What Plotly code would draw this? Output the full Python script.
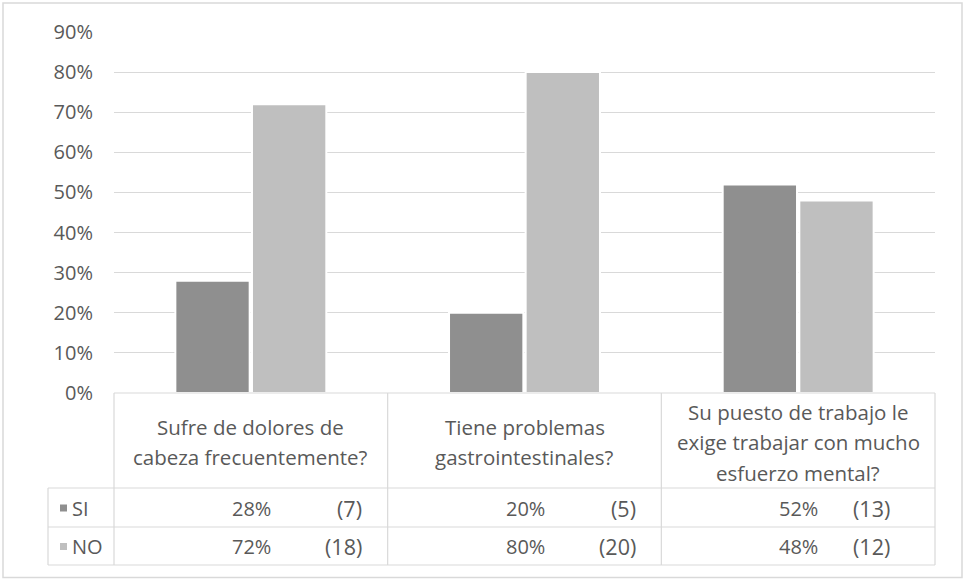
import plotly.graph_objects as go

# ---- data ---------------------------------------------------------------
questions = [
    ["Sufre de dolores de", "cabeza frecuentemente?"],
    ["Tiene problemas", "gastrointestinales?"],
    ["Su puesto de trabajo le", "exige trabajar con mucho", "esfuerzo mental?"],
]
series_names = ["SI", "NO"]
si_share = [0.28, 0.20, 0.52]
no_share = [0.72, 0.80, 0.48]
si_counts = [7, 5, 13]
no_counts = [18, 20, 12]
y_ticks = [0.0, 0.1, 0.2, 0.3, 0.4, 0.5, 0.6, 0.7, 0.8, 0.9]

# ---- styling ------------------------------------------------------------
W, H = 964, 580
ML, MR, MT, MB = 114, 29, 32, 187
PW, PH = W - ML - MR, H - MT - MB
FONT = "Open Sans"
TXT = "#595959"
LINE = "#d9d9d9"
colors = ["#8f8f8f", "#bfbfbf"]
FS = 20
FS_HEAD = 20.5

n = len(questions)
xs = list(range(n))


def px_x(p):
    return (p - ML) / PW


def px_y(p):
    return (H - MB - p) / PH


fig = go.Figure()
for name, vals, col in zip(series_names, [si_share, no_share], colors):
    fig.add_trace(go.Bar(
        x=xs, y=vals, name=name,
        marker=dict(color=col, line=dict(color="white", width=2)),
        hoverinfo="skip",
    ))

shapes = []
annotations = []

# outer chart frame
shapes.append(dict(type="rect", xref="paper", yref="paper",
                   x0=px_x(3), x1=px_x(962), y0=px_y(577.5), y1=px_y(3),
                   line=dict(color=LINE, width=1.5)))

# data table grid
tbl_left = px_x(48)
row_header_bot = px_y(488)
row_si_bot = px_y(527)
row_no_bot = px_y(565)
table_top = 0.0

shapes.append(dict(type="line", xref="paper", yref="paper",
                   x0=0, x1=1, y0=table_top, y1=table_top,
                   line=dict(color=LINE, width=1.2)))
for y in [row_header_bot, row_si_bot, row_no_bot]:
    shapes.append(dict(type="line", xref="paper", yref="paper",
                       x0=tbl_left, x1=1, y0=y, y1=y, line=dict(color=LINE, width=1.2)))
for k in range(n + 1):
    xb = k / n
    shapes.append(dict(type="line", xref="paper", yref="paper",
                       x0=xb, x1=xb, y0=table_top, y1=row_no_bot,
                       line=dict(color=LINE, width=1.2)))
shapes.append(dict(type="line", xref="paper", yref="paper",
                   x0=tbl_left, x1=tbl_left, y0=row_header_bot, y1=row_no_bot,
                   line=dict(color=LINE, width=1.2)))

# header texts (question per column)
LINE_H = 30.5
header_mid = 442
for i, lines in enumerate(questions):
    xc = (i + 0.5) / n
    start = header_mid - LINE_H * (len(lines) - 1) / 2
    for j, t in enumerate(lines):
        annotations.append(dict(xref="paper", yref="paper", x=xc,
                                y=px_y(start + j * LINE_H), text=t,
                                showarrow=False, xanchor="center", yanchor="middle",
                                font=dict(family=FONT, size=FS_HEAD, color=TXT)))

# series rows: legend key + values + counts
row_mid = [508, 546.5]
for r, (name, vals, cnts, col) in enumerate(
        zip(series_names, [si_share, no_share], [si_counts, no_counts], colors)):
    ym = px_y(row_mid[r])
    shapes.append(dict(type="rect", xref="paper", yref="paper",
                       x0=px_x(60), x1=px_x(67), y0=ym - 3.5 / PH, y1=ym + 3.5 / PH,
                       fillcolor=col, line=dict(width=0)))
    annotations.append(dict(xref="paper", yref="paper", x=px_x(70), y=ym,
                            text=name, showarrow=False, xanchor="left", yanchor="middle",
                            font=dict(family=FONT, size=FS, color=TXT)))
    for i in range(n):
        xc_px = ML + (i + 0.5) / n * PW
        annotations.append(dict(xref="paper", yref="paper", x=px_x(xc_px + 22), y=ym,
                                text=f"{round(vals[i] * 100)}%", showarrow=False,
                                xanchor="right", yanchor="middle",
                                font=dict(family=FONT, size=FS, color=TXT)))
        cnt_off = 113 if i < n - 1 else 94
        annotations.append(dict(xref="paper", yref="paper", x=px_x(xc_px + cnt_off), y=ym,
                                text=f"({cnts[i]})", showarrow=False,
                                xanchor="right", yanchor="middle",
                                font=dict(family=FONT, size=FS + 1.5, color=TXT)))

fig.update_layout(
    width=W, height=H,
    margin=dict(l=ML, r=MR, t=MT, b=MB),
    paper_bgcolor="white", plot_bgcolor="white",
    barmode="group", bargap=0.44, bargroupgap=0.03,
    showlegend=False,
    shapes=shapes, annotations=annotations,
    font=dict(family=FONT, color=TXT, size=FS),
)
fig.update_xaxes(range=[-0.5, n - 0.5], showticklabels=False, showgrid=False,
                 zeroline=False, showline=False, fixedrange=True)
fig.update_yaxes(range=[0, 0.9], tickvals=y_ticks, tickformat=".0%",
                 showgrid=True, gridcolor=LINE, gridwidth=1.2, zeroline=False,
                 showline=False, ticks="", ticklabelstandoff=20,
                 tickfont=dict(family=FONT, size=FS, color=TXT), fixedrange=True)

fig.write_html("out.html")
